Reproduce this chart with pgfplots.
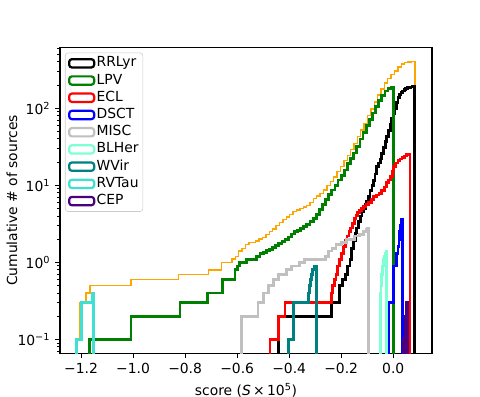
\documentclass[border=0pt]{standalone}
\usepackage{fontspec}
\setmainfont{DejaVu Sans}
\usepackage{pgfplots}
\pgfplotsset{compat=1.18}
\definecolor{mplorange}{HTML}{FFA500}
\definecolor{mplgreen}{HTML}{008000}
\definecolor{mplsilver}{HTML}{C0C0C0}
\definecolor{mplaqua}{HTML}{7FFFD4}
\definecolor{mplteal}{HTML}{008080}
\definecolor{mplturq}{HTML}{40E0D0}
\definecolor{mplindigo}{HTML}{4B0082}

\begin{document}
\begin{tikzpicture}
\path[use as bounding box] (-43.2pt,-31.44pt) rectangle (302.4pt,254.4pt);
\begin{axis}[
  at={(0,0)}, anchor=south west,
  scale only axis, width=267.84pt, height=220.1pt,
  ymode=log,
  xmin=-1.281, xmax=0.149, ymin=0.066, ymax=612,
  xtick={-1.2,-1.0,-0.8,-0.6,-0.4,-0.2,0.0},
  xticklabels={−1.2,−1.0,−0.8,−0.6,−0.4,−0.2,0.0},
  ytick={0.1,1,10,100},
  yticklabels={10\textsuperscript{−1},10\textsuperscript{0},10\textsuperscript{1},10\textsuperscript{2}},
  minor ytick={0.07,0.08,0.09,0.2,0.3,0.4,0.5,0.6,0.7,0.8,0.9,2,3,4,5,6,7,8,9,20,30,40,50,60,70,80,90,200,300,400,500,600},
  tick align=outside, xtick pos=bottom, ytick pos=left,
  major tick length=3.5pt, minor tick length=2pt,
  every major tick/.style={black, line width=0.8pt},
  every minor tick/.style={black, line width=0.6pt},
  axis line style={line width=0.8pt},
  tick label style={font=\fontsize{10}{12}\selectfont},
  label style={font=\fontsize{10}{12}\selectfont},
  xlabel={score (\textit{S}\,×\,10\textsuperscript{5})},
  ylabel={Cumulative \# of sources},
  every axis y label/.style={at={(axis description cs:-0.129,0.5)}, rotate=90, anchor=center},
  legend image code/.code={\draw[#1,fill=none,line width=1.6pt] (0pt,-3pt) rectangle (18pt,3pt);},
  legend cell align=left,
  legend style={at={(0,1)}, anchor=north west, xshift=3.6pt, yshift=-3.6pt,
    draw=black!20, rounded corners=2pt, fill=white,
    font=\fontsize{10}{12}\selectfont, row sep=1.4pt, inner sep=2pt,
    nodes={inner sep=1pt, text height=7pt, text depth=2pt}},
  every axis plot/.append style={const plot, line width=2pt},
]
% total of all classes
\addplot[mplorange, line width=1pt, forget plot] coordinates {
 (-1.217,0.01)(-1.217,0.1)(-1.204,0.3)(-1.181,0.4)(-1.166,0.5)(-1.008,0.6)
 (-0.826,0.7)(-0.711,0.8)(-0.660,1.0)(-0.620,1.1)(-0.607,1.2)(-0.594,1.4)
 (-0.581,1.5)(-0.568,1.7)(-0.555,1.8)(-0.529,1.9)(-0.516,2.0)
 (-0.502,2.1)(-0.489,2.3)(-0.476,2.5)(-0.463,2.7)(-0.450,3.0)(-0.437,3.3)
 (-0.424,3.6)(-0.411,3.9)(-0.398,4.2)(-0.385,4.6)(-0.372,4.8)(-0.359,5.0)
 (-0.346,5.2)(-0.333,5.5)(-0.320,6.0)(-0.307,6.7)(-0.294,7.3)(-0.281,7.9)
 (-0.268,8.7)(-0.255,10.0)(-0.242,11.2)(-0.229,12.8)(-0.216,15)(-0.203,17.6)
 (-0.190,21)(-0.177,24.5)(-0.164,29)(-0.151,35)(-0.138,43)(-0.125,52)
 (-0.112,63)(-0.099,80)(-0.086,98)(-0.073,120)(-0.060,148)(-0.047,178)
 (-0.034,212)(-0.021,243)(-0.008,272)(0.005,305)(0.018,345)(0.031,375)
 (0.044,392)(0.057,400)(0.070,404)(0.083,404)(0.083,0.01)
};
% RRLyr
\addplot[black] coordinates {
 (-0.442,0.01)(-0.442,0.2)(-0.237,0.3)(-0.207,0.5)(-0.195,0.6)(-0.185,0.7)
 (-0.175,0.9)(-0.166,1.1)(-0.160,1.5)(-0.153,1.9)(-0.146,2.4)(-0.140,2.8)
 (-0.133,3.4)(-0.126,4.0)(-0.120,4.5)(-0.115,5.0)(-0.108,5.6)(-0.102,6.2)
 (-0.096,7.2)(-0.089,8.6)(-0.082,10)(-0.076,11.5)(-0.070,14)(-0.063,17.4)
 (-0.056,19.5)(-0.050,22)(-0.044,26)(-0.037,31)(-0.031,37)(-0.025,43)
 (-0.018,52)(-0.012,62)(-0.006,73)(0.000,85)(0.006,100)(0.012,120)
 (0.018,138)(0.024,150)(0.030,160)(0.036,168)(0.042,175)(0.048,180)
 (0.054,184)(0.060,187)(0.066,189)(0.072,190)(0.083,190)(0.083,0.01)
};
\addlegendentry{RRLyr}
% LPV
\addplot[mplgreen] coordinates {
 (-1.169,0.01)(-1.169,0.1)(-1.008,0.2)(-0.820,0.3)(-0.713,0.4)(-0.655,0.6)
 (-0.608,0.8)(-0.600,0.9)(-0.590,1.0)(-0.563,1.1)(-0.525,1.2)(-0.512,1.3)
 (-0.500,1.35)(-0.488,1.41)(-0.476,1.48)(-0.464,1.55)(-0.452,1.66)(-0.440,1.76)
 (-0.428,1.88)(-0.416,2.0)(-0.404,2.14)(-0.392,2.34)(-0.380,2.5)(-0.368,2.6)
 (-0.356,2.75)(-0.344,2.9)(-0.332,3.1)(-0.320,3.4)(-0.308,3.7)(-0.296,4.2)
 (-0.284,4.8)(-0.272,5.6)(-0.260,6.6)(-0.248,7.6)(-0.236,8.7)(-0.224,10)
 (-0.212,11.7)(-0.200,13.5)(-0.188,15.8)(-0.176,19)(-0.164,22.4)(-0.152,26.3)
 (-0.140,32)(-0.128,40)(-0.116,49)(-0.104,60)(-0.092,72)(-0.080,87)
 (-0.068,105)(-0.056,126)(-0.044,148)(-0.032,168)(-0.020,180)(-0.008,184)
 (0.000,184)(0.000,0.01)
};
\addlegendentry{LPV}
% ECL
\addplot[red] coordinates {
 (-0.474,0.01)(-0.474,0.1)(-0.442,0.2)(-0.416,0.3)(-0.237,0.4)(-0.232,0.5)
 (-0.226,0.6)(-0.220,0.7)(-0.213,0.9)(-0.206,1.1)(-0.199,1.3)(-0.192,1.6)
 (-0.185,1.9)(-0.178,2.2)(-0.170,2.5)(-0.163,2.8)(-0.156,3.2)(-0.150,3.7)
 (-0.143,4.1)(-0.137,4.4)(-0.130,4.7)(-0.122,5.0)(-0.115,5.3)(-0.105,5.6)
 (-0.095,6.0)(-0.085,6.6)(-0.075,7.1)(-0.065,7.5)(-0.055,7.9)(-0.045,8.5)
 (-0.035,9.5)(-0.025,10.8)(-0.018,11.7)(-0.010,13)(-0.004,15)(0.002,17.5)
 (0.010,19.5)(0.018,21)(0.026,22)(0.034,23)(0.042,24)(0.050,25)(0.056,25.4)
 (0.064,25.4)(0.064,0.01)
};
\addlegendentry{ECL}
% DSCT
\addplot[blue] coordinates {
 (-0.018,0.01)(-0.018,0.3)(0.000,0.9)(0.014,1.3)(0.018,1.6)(0.022,2.0)
 (0.025,2.5)(0.028,3.0)(0.031,3.6)(0.035,3.6)(0.035,0.01)
};
\addlegendentry{DSCT}
% MISC
\addplot[mplsilver] coordinates {
 (-0.582,0.01)(-0.582,0.2)(-0.520,0.3)(-0.500,0.4)(-0.480,0.5)(-0.460,0.6)
 (-0.440,0.7)(-0.410,0.8)(-0.390,0.9)(-0.360,1.0)(-0.340,1.1)(-0.260,1.2)
 (-0.250,1.4)(-0.235,1.5)(-0.220,1.7)(-0.200,1.8)(-0.180,2.0)(-0.150,2.2)
 (-0.130,2.3)(-0.115,2.5)(-0.105,2.7)(-0.100,2.8)(-0.096,2.8)(-0.096,0.01)
};
\addlegendentry{MISC}
% BLHer
\addplot[mplaqua] coordinates {
 (-0.050,0.01)(-0.050,0.4)(-0.047,0.5)(-0.044,0.7)(-0.041,0.9)(-0.038,1.1)
 (-0.034,1.2)(-0.031,1.3)(-0.028,1.4)(-0.025,1.4)(-0.025,0.01)
};
\addlegendentry{BLHer}
% WVir
\addplot[mplteal] coordinates {
 (-0.403,0.01)(-0.403,0.1)(-0.384,0.3)(-0.326,0.4)(-0.322,0.5)(-0.318,0.6)
 (-0.314,0.7)(-0.309,0.8)(-0.303,0.9)(-0.294,0.9)(-0.294,0.01)
};
\addlegendentry{WVir}
% RVTau
\addplot[mplturq] coordinates {
 (-1.217,0.01)(-1.217,0.1)(-1.198,0.3)(-1.157,0.4)(-1.153,0.4)(-1.153,0.01)
};
\addlegendentry{RVTau}
% CEP
\addplot[mplindigo, fill=mplindigo] coordinates {
 (0.039,0.01)(0.039,0.1)(0.045,0.2)(0.050,0.3)(0.055,0.3)(0.055,0.01)
};
\addlegendentry{CEP}
\end{axis}
\end{tikzpicture}
\end{document}
